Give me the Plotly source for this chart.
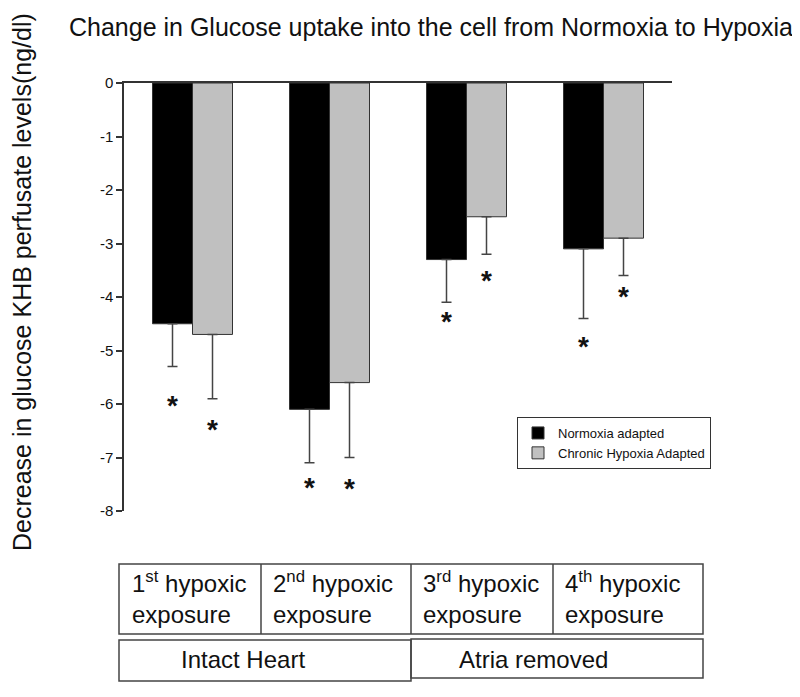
import plotly.graph_objects as go

# categories and values
exposures = ["1st", "2nd", "3rd", "4th"]
normoxia = [-4.5, -6.1, -3.3, -3.1]
normoxia_err = [0.8, 1.0, 0.8, 1.3]
hypoxia = [-4.7, -5.6, -2.5, -2.9]
hypoxia_err = [1.2, 1.4, 0.7, 0.7]
# asterisk positions (y values)
normoxia_star = [-5.93, -7.47, -4.37, -4.84]
hypoxia_star = [-6.39, -7.48, -3.59, -3.90]

y_ticks = [0, -1, -2, -3, -4, -5, -6, -7, -8]
cell_labels = [
    "1<sup>st</sup> hypoxic<br>exposure",
    "2<sup>nd</sup> hypoxic<br>exposure",
    "3<sup>rd</sup> hypoxic<br>exposure",
    "4<sup>th</sup> hypoxic<br>exposure",
]
group_labels = ["Intact Heart", "Atria removed"]

FONT = "Liberation Sans, Arial, sans-serif"
OFF = 8  # page body margin, figure starts at (8, 8)
W, H = 800 - OFF, 697 - OFF
L, R, T, B = 124 - OFF, 128, 83 - OFF, 186


def px(x, y):
    """window pixel position -> paper coords"""
    x, y = x - OFF, y - OFF
    return (x - L) / (W - L - R), (H - B - y) / (H - T - B)


fig = go.Figure()
fig.add_trace(go.Bar(
    x=exposures, y=normoxia, name="Normoxia adapted",
    marker=dict(color="#000000", line=dict(color="#333333", width=1)),
    error_y=dict(type="data", symmetric=False, array=[0] * 4, arrayminus=normoxia_err,
                 color="#444444", thickness=1.5, width=5),
))
fig.add_trace(go.Bar(
    x=exposures, y=hypoxia, name="Chronic Hypoxia Adapted",
    marker=dict(color="#c0c0c0", line=dict(color="#333333", width=1)),
    error_y=dict(type="data", symmetric=False, array=[0] * 4, arrayminus=hypoxia_err,
                 color="#444444", thickness=1.5, width=5),
))

annotations = []
for stars, shift in [(normoxia_star, -20), (hypoxia_star, 20)]:
    for cat, yv in zip(exposures, stars):
        annotations.append(dict(
            x=cat, y=yv, xref="x", yref="y", text="<b>*</b>", showarrow=False,
            xshift=shift, yshift=-5, xanchor="center", yanchor="middle",
            font=dict(family=FONT, size=28, color="#111111"),
        ))

# y axis title
ax, ay = px(22, 282)
annotations.append(dict(
    x=ax, y=ay, xref="paper", yref="paper", showarrow=False, textangle=-90,
    xanchor="center", yanchor="middle",
    text="Decrease in glucose KHB perfusate levels(ng/dl)",
    font=dict(family=FONT, size=25, color="#111111"),
))

# table below the chart
shapes = []
line = dict(color="#444444", width=1.5)
x0, y0 = px(119, 564)
x1, y1 = px(703, 634)
shapes.append(dict(type="rect", xref="paper", yref="paper", x0=x0, y0=y0, x1=x1, y1=y1, line=line))
for xd in [261, 411, 553]:
    xa, _ = px(xd, 0)
    shapes.append(dict(type="line", xref="paper", yref="paper", x0=xa, x1=xa, y0=y0, y1=y1, line=line))
for (a, b, top, bot) in [(119, 411, 640, 681), (411, 703, 639, 678)]:
    xa, ya = px(a, top)
    xb, yb = px(b, bot)
    shapes.append(dict(type="rect", xref="paper", yref="paper", x0=xa, y0=ya, x1=xb, y1=yb, line=line))

for label, xl in zip(cell_labels, [130, 271, 421, 563]):
    xa, ya = px(xl, 597)
    annotations.append(dict(
        x=xa, y=ya, xref="paper", yref="paper", text=label, showarrow=False,
        xanchor="left", yanchor="middle", align="left",
        font=dict(family=FONT, size=24, color="#111111"),
    ))
for label, xc in zip(group_labels, [243, 533]):
    xa, ya = px(xc, 659)
    annotations.append(dict(
        x=xa, y=ya, xref="paper", yref="paper", text=label, showarrow=False,
        xanchor="center", yanchor="middle",
        font=dict(family=FONT, size=24, color="#111111"),
    ))

lx, ly = px(711, 417)
fig.update_layout(
    width=W, height=H,
    margin=dict(l=L, r=R, t=T, b=B),
    paper_bgcolor="white", plot_bgcolor="white",
    barmode="group", bargap=0.416, bargroupgap=0,
    title=dict(text="Change in Glucose uptake into the cell from Normoxia to Hypoxia",
               x=(431 - OFF) / W, xref="container", xanchor="center",
               y=1 - (27 - OFF) / H, yref="container", yanchor="middle",
               font=dict(family=FONT, size=25, color="#111111")),
    showlegend=True,
    legend=dict(x=lx, y=ly, xanchor="right", yanchor="top",
                bgcolor="white", bordercolor="#333333", borderwidth=1,
                font=dict(family=FONT, size=13, color="#111111"),
                itemwidth=30, tracegroupgap=2),
    annotations=annotations,
    shapes=shapes,
    font=dict(family=FONT),
)
fig.update_xaxes(side="top", showline=True, linecolor="#333333", linewidth=1.5,
                 showticklabels=False, ticks="", showgrid=False, zeroline=False)
fig.update_yaxes(range=[-8, 0], tickvals=y_ticks, ticktext=[str(v) for v in y_ticks],
                 ticks="outside", ticklen=6, tickcolor="#333333", tickwidth=1.5,
                 showline=True, linecolor="#333333", linewidth=1.5,
                 showgrid=False, zeroline=False,
                 tickfont=dict(family=FONT, size=15, color="#111111"))

fig.write_html("out.html")
